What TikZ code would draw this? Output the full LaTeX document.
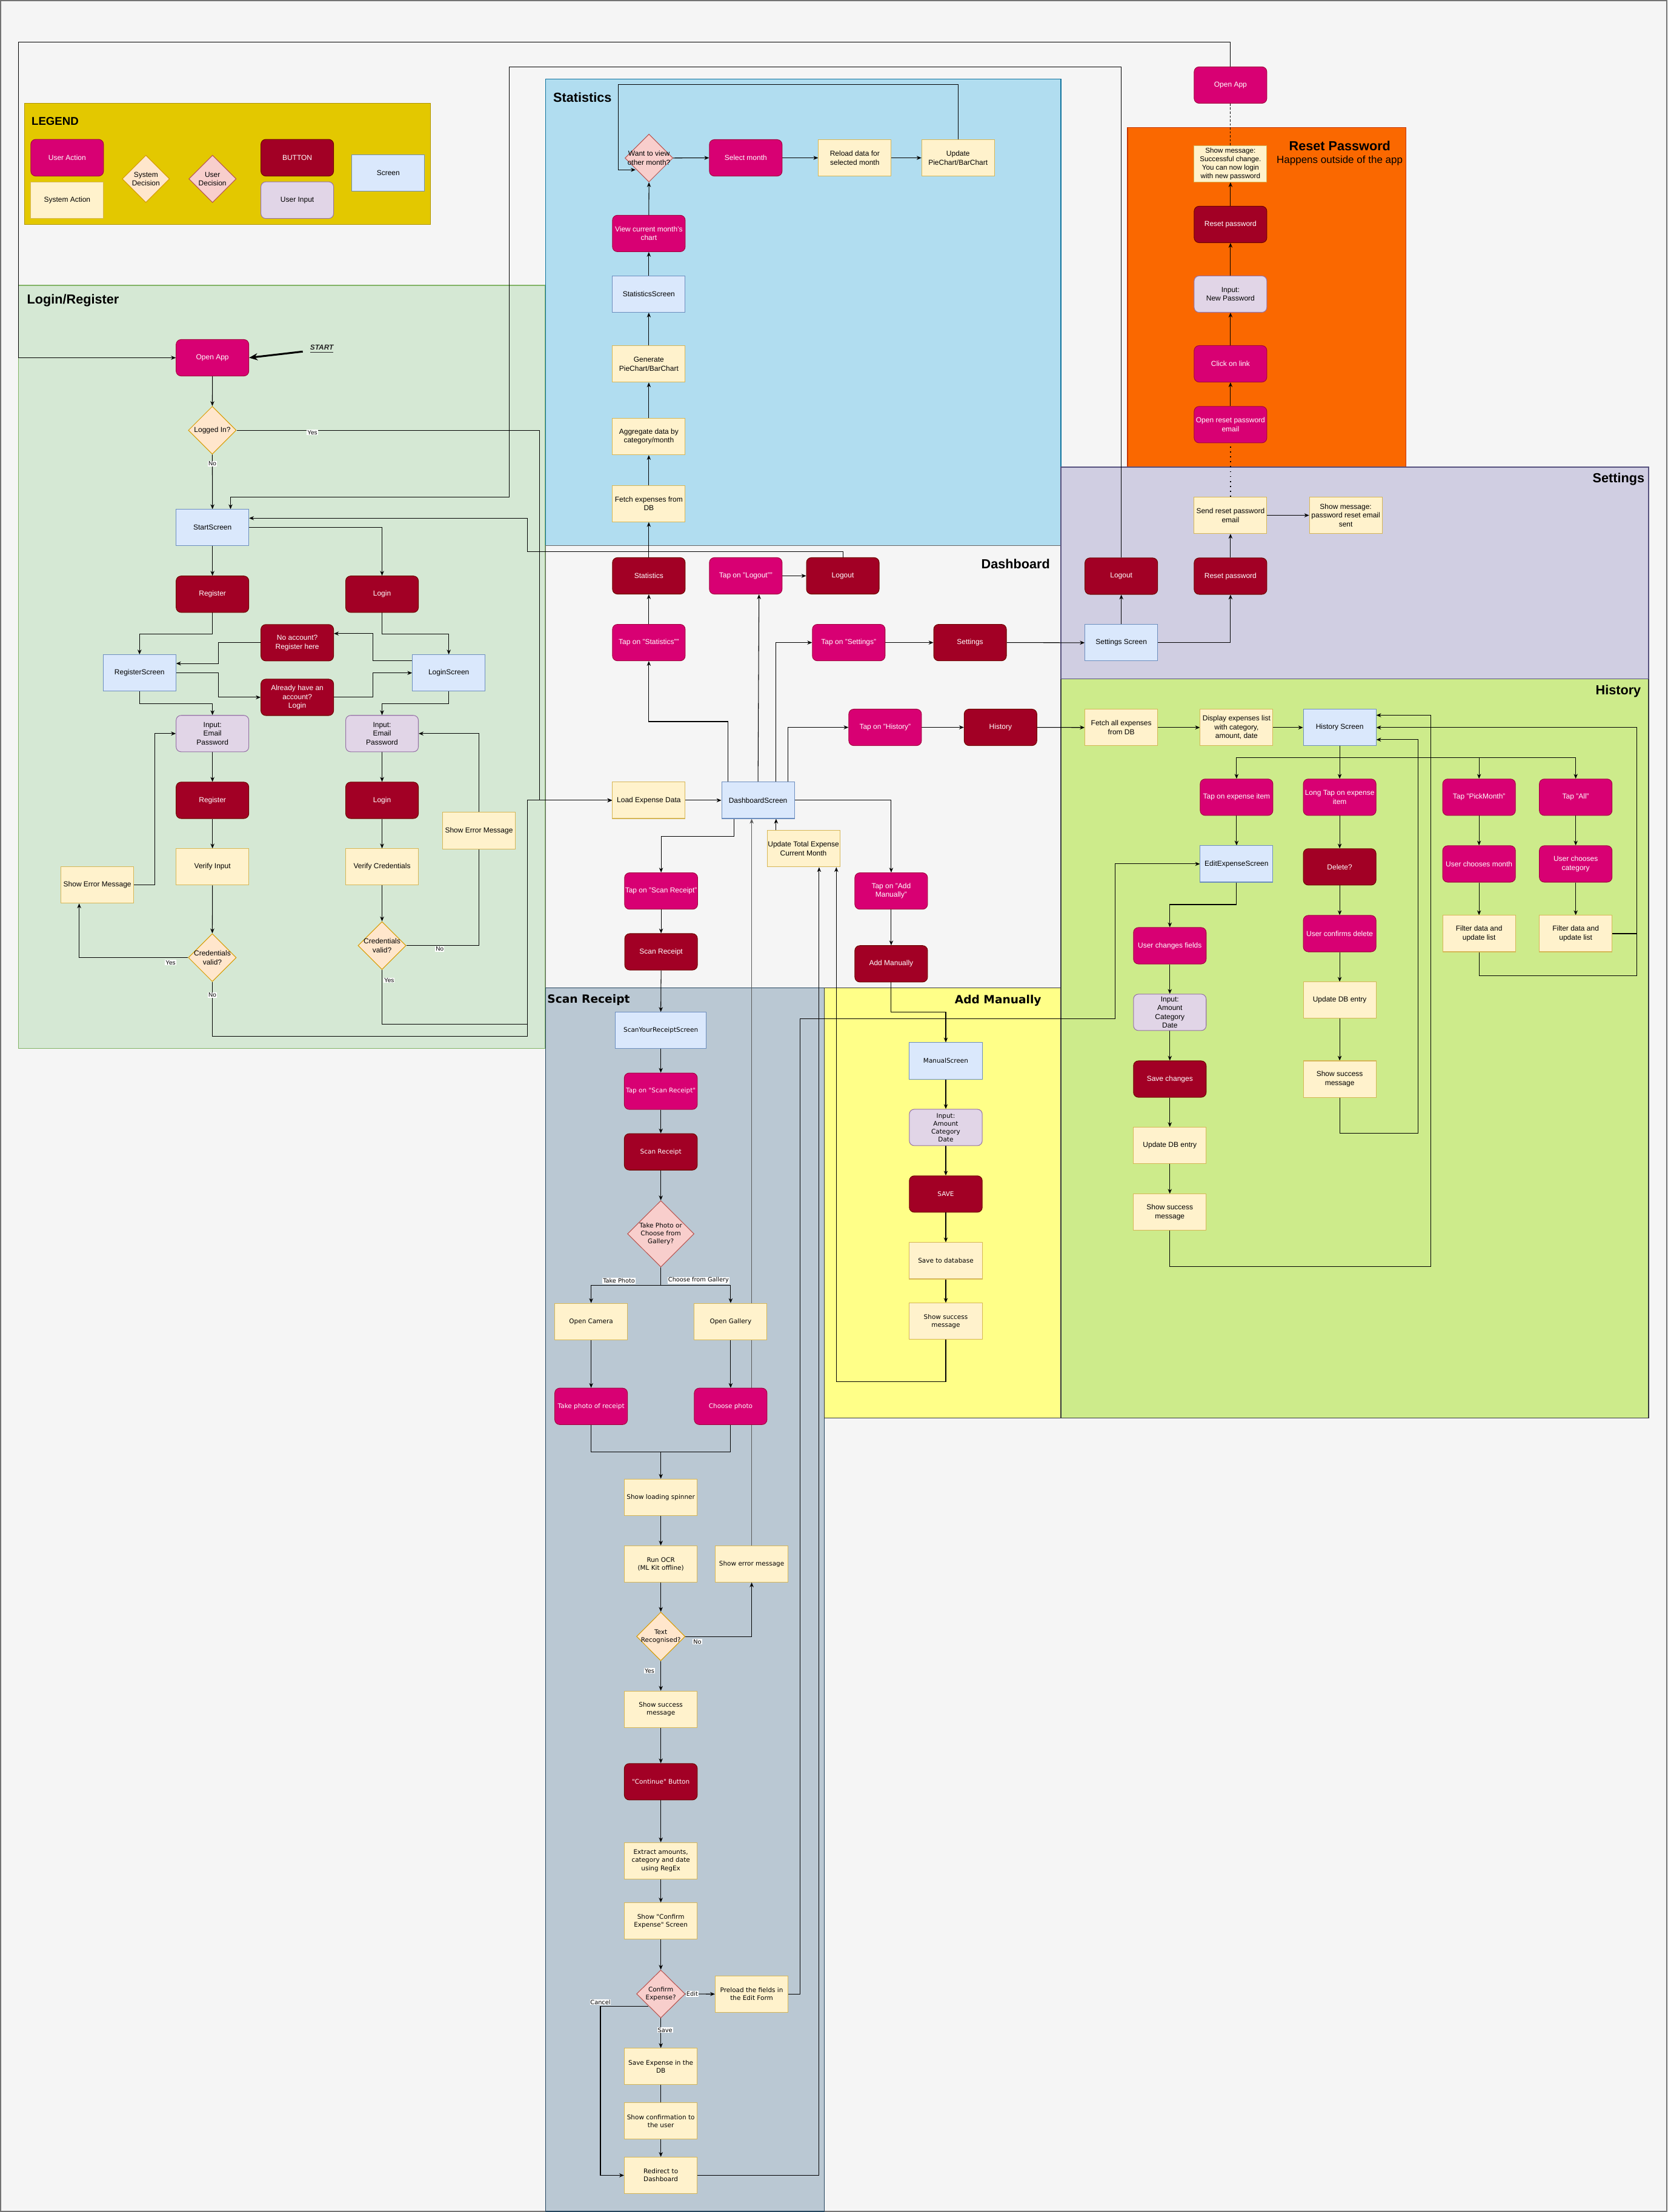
\documentclass[tikz,border=0pt]{standalone}
\usepackage{fontspec}
\setmainfont{Liberation Sans}
\newfontfamily\dejavu{DejaVu Sans}
\usetikzlibrary{shapes.geometric,arrows.meta,calc}
\pgfdeclarelayer{bglayer}
\pgfdeclarelayer{edgelayer}
\pgfsetlayers{bglayer,edgelayer,main}
\definecolor{bgc}{HTML}{F5F5F5}
\definecolor{cUA}{HTML}{D80073}\definecolor{cUAd}{HTML}{A50040}
\definecolor{cBT}{HTML}{A20025}\definecolor{cBTd}{HTML}{6F0000}
\definecolor{cSA}{HTML}{FFF2CC}\definecolor{cSAd}{HTML}{D6B656}
\definecolor{cSC}{HTML}{DAE8FC}\definecolor{cSCd}{HTML}{6C8EBF}
\definecolor{cUI}{HTML}{E1D5E7}\definecolor{cUId}{HTML}{9673A6}
\definecolor{cSD}{HTML}{FFE6CC}\definecolor{cSDd}{HTML}{D79B00}
\definecolor{cUD}{HTML}{F8CECC}\definecolor{cUDd}{HTML}{B85450}
\definecolor{lgLeg}{HTML}{E3C800}\definecolor{lgLegd}{HTML}{B09500}
\definecolor{lgLog}{HTML}{D5E8D4}\definecolor{lgLogd}{HTML}{82B366}
\definecolor{lgSta}{HTML}{B1DDF0}\definecolor{lgStad}{HTML}{10739E}
\definecolor{lgDasd}{HTML}{666666}
\definecolor{lgRes}{HTML}{FA6800}\definecolor{lgResd}{HTML}{C73500}
\definecolor{lgSet}{HTML}{D0CEE2}\definecolor{lgSetd}{HTML}{56517E}
\definecolor{lgHis}{HTML}{CDEB8B}\definecolor{lgHisd}{HTML}{36393D}
\definecolor{lgScn}{HTML}{BAC8D3}\definecolor{lgScnd}{HTML}{23445D}
\definecolor{lgAdd}{HTML}{FFFF88}\definecolor{lgAddd}{HTML}{36393D}
\tikzset{
 base/.style={line width=0.45pt, minimum width=51.5pt, minimum height=25.8pt, inner sep=0.4pt, align=center, font=\fontsize{5.15}{6.2}\selectfont},
 uact/.style={base, draw=cUAd, fill=cUA, text=white, rounded corners=3.5pt},
 btn/.style={base, draw=cBTd, fill=cBT, text=white, rounded corners=3.5pt},
 sact/.style={base, draw=cSAd, fill=cSA},
 scr/.style={base, draw=cSCd, fill=cSC},
 uin/.style={base, draw=cUId, fill=cUI, rounded corners=3.5pt},
 dia/.style={diamond, line width=0.45pt, inner sep=0pt, minimum width=34pt, minimum height=34pt},
 sdec/.style={dia, draw=cSDd, fill=cSD},
 udec/.style={dia, draw=cUDd, fill=cUD},
 dtext/.style={align=center, inner sep=0pt, font=\fontsize{5.15}{6.2}\selectfont},
 dvtext/.style={align=center, inner sep=0pt, font=\dejavu\fontsize{4.5}{5.6}\selectfont},
 dv/.style={font=\dejavu\fontsize{4.5}{5.6}\selectfont},
 arr/.style={draw=black, line width=0.45pt, -{Stealth[length=3.4pt,width=2.8pt]}},
 ln/.style={draw=black, line width=0.45pt},
 lbl/.style={fill=white, inner sep=0.4pt, font=\fontsize{4.3}{5}\selectfont},
 dvlbl/.style={fill=white, inner sep=0.4pt, font=\dejavu\fontsize{4.2}{5}\selectfont},
 lane/.style={line width=0.6pt},
 ttl/.style={inner sep=0pt, font=\bfseries\fontsize{9.3}{11}\selectfont},
 dvttl/.style={inner sep=0pt, font=\dejavu\bfseries\fontsize{8}{9.5}\selectfont},
}
\begin{document}
\begin{tikzpicture}[x=1pt,y=-1pt]
\useasboundingbox (0,0) rectangle (1182,1568);
\begin{pgfonlayer}{bglayer}
\fill[bgc] (0,0) rectangle (1182,1568);
\draw[black!55, line width=0.8pt] (0.4,0.4) rectangle (1181.6,1567.6);
\draw[lane, fill=lgLeg, draw=lgLegd] (17.3,73.3) rectangle (305.2,159.1);
\draw[lane, fill=lgLog, draw=lgLogd] (13.2,202.2) rectangle (386.6,743.3);
\draw[lane, fill=lgSta, draw=lgStad] (386.8,56) rectangle (752,386.7);
\draw[lane, fill=bgc, draw=lgDasd] (386.8,386.7) rectangle (752,700.3);
\draw[lane, fill=lgRes, draw=lgResd] (799.2,90.5) rectangle (996.7,331.1);
\draw[lane, fill=lgHis, draw=lgHisd] (752,481.2) rectangle (1168.5,1005.2);
\draw[lane, fill=lgSet, draw=lgSetd] (752,331.1) rectangle (1168.5,481.2);
\draw[lane, fill=lgScn, draw=lgScnd] (386.8,700.3) rectangle (584.4,1567.6);
\draw[lane, fill=lgAdd, draw=lgAddd] (584.4,700.3) rectangle (751.8,1005.2);
\end{pgfonlayer}

% titles
\node[inner sep=0pt, font=\bfseries\fontsize{8}{9}\selectfont, anchor=west] (legtitle) at (22.2,85.9) {LEGEND};
\node[ttl, anchor=west] (tlogin) at (19,212.8) {Login/Register};
\node[ttl, anchor=west] (tstat) at (392,69.1) {Statistics};
\node[ttl, anchor=east] (tdash) at (744.4,399.7) {Dashboard};
\node[ttl] (treset) at (949.7,103.3) {Reset Password};
\node[inner sep=0pt, font=\fontsize{7.3}{8.5}\selectfont] (tresetsub) at (949.6,113.9) {Happens outside of the app};
\node[ttl, anchor=east] (tset) at (1165.8,339.7) {Settings};
\node[ttl, anchor=east] (thist) at (1163.3,489.8) {History};
\node[dvttl, anchor=west] (tscan) at (387.8,708.8) {Scan Receipt};
\node[dvttl, anchor=west] (tadd) at (676.6,709.1) {Add Manually};

% legend
\node[uact, minimum height=26pt] (lgua) at (47.6,111.8) {User Action};
\node[sact, minimum height=26pt] (lgsa) at (47.6,141.9) {System Action};
\node[sdec, minimum width=33.6pt, minimum height=33.6pt, label={[dtext]center:{System\\Decision}}] (lgsd) at (103.4,126.8) {};
\node[udec, minimum width=33.6pt, minimum height=33.6pt, label={[dtext]center:{User\\Decision}}] (lgud) at (150.6,126.8) {};
\node[btn, minimum height=26pt] (lgbt) at (210.7,111.8) {BUTTON};
\node[uin, minimum height=26pt] (lgui) at (210.7,141.9) {User Input};
\node[scr] (lgsc) at (275.2,122.6) {Screen};

% Login / Register
\node[uact] (lopen) at (150.6,253.6) {Open App};
\node[sdec, label={[dtext]center:Logged In?}] (llogged) at (150.5,305) {};
\node[scr] (lstart) at (150.6,374) {StartScreen};
\node[btn] (lregb) at (150.6,421.2) {Register};
\node[btn] (llogb) at (270.8,421.2) {Login};
\node[btn] (lnoacc) at (210.7,455.6) {No account?\\Register here};
\node[btn] (lalready) at (210.7,494.3) {Already have an\\account?\\Login};
\node[scr] (lregscr) at (98.9,477) {RegisterScreen};
\node[scr] (llogscr) at (318.1,477) {LoginScreen};
\node[uin] (lregin) at (150.6,520) {Input:\\Email\\Password};
\node[uin] (llogin) at (270.8,520) {Input:\\Email\\Password};
\node[btn] (lregb2) at (150.6,567.3) {Register};
\node[btn] (llogb2) at (270.8,567.3) {Login};
\node[sact] (lverin) at (150.6,614.5) {Verify Input};
\node[sact] (lvercred) at (270.8,614.5) {Verify Credentials};
\node[sact] (lerr1) at (69,627.3) {Show Error Message};
\node[sact] (lerr2) at (339.5,588.8) {Show Error Message};
\node[sdec, label={[dtext]center:{Credentials\\valid?}}] (lcv1) at (150.5,678.8) {};
\node[sdec, label={[dtext]center:{Credentials\\valid?}}] (lcv2) at (270.8,670.3) {};
\node[font=\bfseries\itshape\fontsize{5.1}{6}\selectfont, text=black!85, inner sep=0pt] (starttxt) at (228.1,247.4) {\underline{START}};
\coordinate (startpt) at (214.6,249.2);

% Statistics
\node[udec, label={[dtext]center:{Want to view\\other month?}}] (swant) at (460,112) {};
\node[uact] (sselect) at (528.6,111.9) {Select month};
\node[sact] (sreload) at (605.9,111.9) {Reload data for\\selected month};
\node[sact] (supdate) at (679.1,111.9) {Update\\PieChart/BarChart};
\node[uact] (sview) at (459.9,165.5) {View current month's\\chart};
\node[scr] (sscr) at (459.9,208.5) {StatisticsScreen};
\node[sact] (sgen) at (459.9,258) {Generate\\PieChart/BarChart};
\node[sact] (sagg) at (459.9,309.5) {Aggregate data by\\category/month};
\node[sact] (sfetch) at (459.9,357) {Fetch expenses from\\DB};

% Dashboard
\node[btn] (dstat) at (459.9,408.2) {Statistics};
\node[uact] (dtaplogout) at (528.6,408.2) {Tap on "Logout""};
\node[btn] (dlogout) at (597.4,408.2) {Logout};
\node[uact] (dtapstat) at (459.9,455.5) {Tap on "Statistics""};
\node[uact] (dtapset) at (601.6,455.5) {Tap on "Settings"};
\node[btn] (dset) at (687.6,455.5) {Settings};
\node[uact] (dtaphist) at (627.4,515.6) {Tap on "History"};
\node[btn] (dhist) at (709.2,515.6) {History};
\node[sact] (dload) at (459.9,567.3) {Load Expense Data};
\node[scr] (dscr) at (537.3,567.3) {DashboardScreen};
\node[sact] (dupd) at (569.5,601.6) {Update Total Expense\\Current Month};
\node[uact] (dtapscan) at (468.6,631.6) {Tap on "Scan Receipt"};
\node[btn] (dscan) at (468.6,674.7) {Scan Receipt};
\node[uact] (dtapadd) at (631.7,631.6) {Tap on "Add\\Manually"};
\node[btn] (dadd) at (631.7,683.2) {Add Manually};

% Scan Receipt
\node[scr, dv, minimum width=64.4pt] (cscr) at (468.4,730.4) {ScanYourReceiptScreen};
\node[uact, dv, minimum width=51.7pt] (ctap) at (468.4,773.5) {Tap on "Scan Receipt"};
\node[btn, dv, minimum width=51.7pt] (cbtn) at (468.4,816.5) {Scan Receipt};
\node[udec, minimum width=47.2pt, minimum height=47.1pt, label={[dvtext]center:{Take Photo or\\Choose from\\Gallery?}}] (cdec) at (468.4,874.6) {};
\node[sact, dv] (ccam) at (419,936.8) {Open Camera};
\node[sact, dv] (cgal) at (517.9,936.8) {Open Gallery};
\node[uact, dv] (ctakeph) at (419,996.9) {Take photo of receipt};
\node[uact, dv] (cchoose) at (517.9,996.9) {Choose photo};
\node[sact, dv, minimum width=51.7pt] (cspin) at (468.4,1061.3) {Show loading spinner};
\node[sact, dv, minimum width=51.7pt] (cocr) at (468.4,1108.6) {Run OCR\\(ML Kit offline)};
\node[sact, dv, minimum width=51.7pt] (cerr) at (532.8,1108.6) {Show error message};
\node[sdec, minimum width=34.4pt, minimum height=34.5pt, label={[dvtext]center:{Text\\Recognised?}}] (ctxt) at (468.4,1160) {};
\node[sact, dv, minimum width=51.7pt] (csucc) at (468.4,1211.6) {Show success\\message};
\node[btn, dv, minimum width=51.7pt] (ccont) at (468.4,1263) {"Continue" Button};
\node[sact, dv, minimum width=51.7pt] (cextr) at (468.4,1319) {Extract amounts,\\category and date\\using RegEx};
\node[sact, dv, minimum width=51.7pt] (cshow) at (468.4,1361.7) {Show "Confirm\\Expense" Screen};
\node[udec, minimum width=34.4pt, minimum height=34pt, label={[dvtext]center:{Confirm\\Expense?}}] (cconf) at (468.4,1413.4) {};
\node[sact, dv, minimum width=51.7pt] (cpre) at (532.8,1413.5) {Preload the fields in\\the Edit Form};
\node[sact, dv, minimum width=51.7pt] (csave) at (468.4,1464.8) {Save Expense in the\\DB};
\node[sact, dv, minimum width=51.7pt] (cconfu) at (468.4,1503.5) {Show confirmation to\\the user};
\node[sact, dv, minimum width=51.7pt] (credir) at (468.4,1542) {Redirect to\\Dashboard};

% Add Manually
\node[scr, dv, minimum width=51.7pt] (mscr) at (670.4,752) {ManualScreen};
\node[uin, dv, minimum width=51.7pt] (minput) at (670.4,799.2) {Input:\\Amount\\Category\\Date};
\node[btn, dv, minimum width=51.7pt] (msave) at (670.4,846.4) {SAVE};
\node[sact, dv, minimum width=51.7pt] (mdb) at (670.4,893.7) {Save to database};
\node[sact, dv, minimum width=51.7pt] (msucc) at (670.4,936.6) {Show success\\message};

% Reset Password
\node[uact] (ropen) at (872.2,60.3) {Open App};
\node[sact, font=\fontsize{5}{6.05}\selectfont] (rmsg) at (872.2,116.1) {Show message:\\Successful change.\\You can now login\\with new password};
\node[btn] (rreset) at (872.2,159.1) {Reset password};
\node[uin] (rinput) at (872.2,208.5) {Input:\\New Password};
\node[uact] (rclick) at (872.2,257.9) {Click on link};
\node[uact] (rmail) at (872.2,301) {Open reset password\\email};

% Settings
\node[sact] (esend) at (872.2,365.3) {Send reset password\\email};
\node[sact] (emsg) at (953.9,365.3) {Show message:\\password reset email\\sent};
\node[btn] (elogout) at (794.8,408.4) {Logout};
\node[btn] (ereset) at (872.2,408.4) {Reset password};
\node[scr] (escr) at (794.8,455.6) {Settings Screen};

% History
\node[sact] (hfetch) at (794.8,515.7) {Fetch all expenses\\from DB};
\node[sact] (hdisp) at (876.5,515.7) {Display expenses list\\with category,\\amount, date};
\node[scr] (hscr) at (949.6,515.7) {History Screen};
\node[uact] (htapitem) at (876.5,565.1) {Tap on expense item};
\node[uact] (hlong) at (949.6,565.1) {Long Tap on expense\\item};
\node[uact] (hpick) at (1048.4,565.1) {Tap "PickMonth"};
\node[uact] (hall) at (1116.9,565.1) {Tap "All"};
\node[scr] (hedit) at (876.5,612.4) {EditExpenseScreen};
\node[btn] (hdel) at (949.6,614.5) {Delete?};
\node[uact] (hmonth) at (1048.4,612.4) {User chooses month};
\node[uact] (hcat) at (1116.9,612.4) {User chooses\\category};
\node[uact] (hchange) at (829.2,670.4) {User changes fields};
\node[uact] (hconfdel) at (949.6,661.8) {User confirms delete};
\node[sact] (hfilt1) at (1048.4,661.8) {Filter data and\\update list};
\node[sact] (hfilt2) at (1116.9,661.8) {Filter data and\\update list};
\node[uin] (hinput) at (829.2,717.6) {Input:\\Amount\\Category\\Date};
\node[sact] (hupddel) at (949.6,709) {Update DB entry};
\node[btn] (hsave) at (829.2,764.9) {Save changes};
\node[sact] (hsuccdel) at (949.6,764.9) {Show success\\message};
\node[sact] (hupd) at (829.2,812) {Update DB entry};
\node[sact] (hsucc) at (829.2,859.3) {Show success\\message};

\begin{pgfonlayer}{edgelayer}
% login / register
\draw[arr] (ropen.north) |- (13.2,30) |- (lopen.west);
\draw[line width=1.3pt, -{Stealth[length=6pt,width=5pt]}] (startpt) -- (lopen.east);
\draw[arr] (lopen.south) -- (llogged.north);
\draw[arr] (llogged.south) -- node[lbl,pos=0.17]{No} (lstart.north);
\draw[arr] (llogged.east) -- node[lbl,pos=0.25,yshift=-1.5pt]{Yes} (382.3,305) |- (dload.west);
\draw[arr] (elogout.north) |- (361,47.4) -- (361,352.3) -| ($(lstart.north)+(12.8,0)$);
\draw[arr] (dlogout.north) |- (373.8,391.1) |- ($(lstart.east)+(0,-6.7)$);
\draw[arr] (lstart.east) -| (llogb.north);
\draw[arr] (lstart.south) -- (lregb.north);
\draw[arr] (lregb.south) -- ++(0,15) -| (lregscr.north);
\draw[arr] (llogb.south) -- ++(0,15) -| (llogscr.north);
\draw[arr] (lnoacc.west) -- (154.9,455.6) |- ($(lregscr.east)+(0,-6.7)$);
\draw[arr] ($(llogscr.west)+(0,-8.5)$) -- (264.3,468.5) |- ($(lnoacc.east)+(0,-6.5)$);
\draw[arr] (lregscr.east) -- (154.9,477) |- (lalready.west);
\draw[arr] (lalready.east) -- (264.3,494.3) |- (llogscr.west);
\draw[arr] (lregscr.south) -- ++(0,8.5) -| (lregin.north);
\draw[arr] (llogscr.south) -- ++(0,8.5) -| (llogin.north);
\draw[arr] (lregin.south) -- (lregb2.north);
\draw[arr] (lregb2.south) -- (lverin.north);
\draw[arr] (lverin.south) -- (lcv1.north);
\draw[arr] (llogin.south) -- (llogb2.north);
\draw[arr] (llogb2.south) -- (lvercred.north);
\draw[arr] (lvercred.south) -- (lcv2.north);
\draw[arr] (lcv1.west) -| node[lbl,pos=0.08,yshift=-3.5pt]{Yes} ($(lerr1.south)+(-12.9,0)$);
\draw[arr] (lerr1.east) -- (109.8,627.3) |- (lregin.west);
\draw[arr] (lcv1.south) -- node[lbl,pos=0.24]{No} (150.5,734.7) -| (373.8,567.3) -- (dload.west);
\draw[ln] (lcv2.south) -- node[lbl,pos=0.19,xshift=5pt]{Yes} (270.8,726.1) -- (373.8,726.1);
\draw[ln] (lcv2.east) -| node[lbl,pos=0.23,yshift=-2.5pt]{No} (lerr2.south);
\draw[arr] (lerr2.north) |- (llogin.east);
% statistics
\draw[arr] (dstat.north) -- (sfetch.south);
\draw[arr] (sfetch.north) -- (sagg.south);
\draw[arr] (sagg.north) -- (sgen.south);
\draw[arr] (sgen.north) -- (sscr.south);
\draw[arr] (sscr.north) -- (sview.south);
\draw[arr] (sview.north) -- (swant.south);
\draw[arr] (swant.east) -- (sselect.west);
\draw[arr] (sselect.east) -- (sreload.west);
\draw[arr] (sreload.east) -- (supdate.west);
\draw[arr] (supdate.north) |- (438.3,60.1) |- ($(swant.center)+(-9.5,8.4)$);
% dashboard
\draw[arr] (dload.east) -- (dscr.west);
\draw[arr] ($(dscr.north)+(-21.5,0)$) |- (459.9,511.5) -- (dtapstat.south);
\draw[arr] (dtapstat.north) -- (dstat.south);
\draw[arr] (dscr.north) -- ($(dtaplogout.south)+(9.4,0)$);
\draw[arr] (dtaplogout.east) -- (dlogout.west);
\draw[arr] ($(dscr.north)+(12.8,0)$) |- (dtapset.west);
\draw[arr] ($(dscr.north)+(21.4,0)$) |- (dtaphist.west);
\draw[arr] (dtapset.east) -- (dset.west);
\draw[arr] (dset.east) -- (escr.west);
\draw[arr] (dtaphist.east) -- (dhist.west);
\draw[arr] (dhist.east) -- (hfetch.west);
\draw[arr] ($(dscr.south)+(-17.2,0)$) |- (468.6,593) -- (dtapscan.north);
\draw[arr] (dtapscan.south) -- (dscan.north);
\draw[arr] (dscan.south) -- (cscr.north);
\draw[arr] (dscr.east) -| (dtapadd.north);
\draw[arr] (dtapadd.south) -- (dadd.north);
\draw[arr] (dadd.south) |- (670.4,717.3) -- (mscr.north);
\draw[arr] ($(dupd.north)+(-19.4,0)$) -- ($(dscr.south)+(12.8,0)$);
\draw[arr, draw=black!65] (cerr.north) -- (cerr.north |- dscr.south);
% scan receipt
\draw[arr] (cscr.south) -- (ctap.north);
\draw[arr] (ctap.south) -- (cbtn.north);
\draw[arr] (cbtn.south) -- (cdec.north);
\draw[arr] (cdec.south) -- (468.4,911) -| node[dvlbl,pos=0.3,anchor=south,yshift=0.8pt]{Take Photo} (ccam.north);
\draw[arr] (cdec.south) -- (468.4,911) -| node[dvlbl,pos=0.27,anchor=south,yshift=0.8pt]{Choose from Gallery} (cgal.north);
\draw[arr] (ccam.south) -- (ctakeph.north);
\draw[arr] (cgal.south) -- (cchoose.north);
\draw[arr] (ctakeph.south) |- (468.4,1029.1) -- (cspin.north);
\draw[ln] (cchoose.south) |- (468.4,1029.1);
\draw[arr] (cspin.south) -- (cocr.north);
\draw[arr] (cocr.south) -- (ctxt.north);
\draw[arr] (ctxt.east) -| node[dvlbl,pos=0.09,yshift=-3.7pt]{No} (cerr.south);
\draw[arr] (ctxt.south) -- node[dvlbl,pos=0.33,xshift=-8pt]{Yes} (csucc.north);
\draw[arr] (csucc.south) -- (ccont.north);
\draw[arr] (ccont.south) -- (cextr.north);
\draw[arr] (cextr.south) -- (cshow.north);
\draw[arr] (cshow.south) -- (cconf.north);
\draw[arr] (cconf.east) -- node[dvlbl,pos=0.23]{Edit} (cpre.west);
\draw[arr] (cpre.east) -| (567.2,722) -| (790.4,612.4) -- (hedit.west);
\draw[arr] ($(cconf.center)+(-9,8.6)$) -| node[dvlbl,pos=0.5,anchor=south,yshift=0.5pt]{Cancel} (425.6,1480) |- (credir.west);
\draw[arr] (cconf.south) -- node[dvlbl,pos=0.4,xshift=3pt]{Save} (csave.north);
\draw[ln] (csave.south) -- (cconfu.north);
\draw[arr] (cconfu.south) -- (credir.north);
\draw[arr] (credir.east) -| ($(dupd.south)+(11.1,0)$);
% add manually
\draw[arr] (mscr.south) -- (minput.north);
\draw[arr] (minput.south) -- (msave.north);
\draw[arr] (msave.south) -- (mdb.north);
\draw[arr] (mdb.south) -- (msucc.north);
\draw[arr] (msucc.south) |- (592.8,979.5) -- ($(dupd.south)+(23.3,0)$);
% reset password
\draw[arr] (rmail.north) -- (rclick.south);
\draw[arr] (rclick.north) -- (rinput.south);
\draw[arr] (rinput.north) -- (rreset.south);
\draw[arr] (rreset.north) -- (rmsg.south);
\draw[ln, dash pattern=on 1.6pt off 1.2pt] (ropen.south) -- (rmsg.north);
\draw[ln, line width=0.7pt, dash pattern=on 0.7pt off 2.8pt] (esend.north) -- (rmail.south);
% settings
\draw[arr] (escr.north) -- (elogout.south);
\draw[arr] (escr.east) -| (ereset.south);
\draw[arr] (ereset.north) -- (esend.south);
\draw[arr] (esend.east) -- (emsg.west);
% history
\draw[arr] (hfetch.east) -- (hdisp.west);
\draw[arr] (hdisp.east) -- (hscr.west);
\draw[arr] (hscr.south) -- (hlong.north);
\draw[arr] (hscr.south) |- (876.5,537.1) -- (htapitem.north);
\draw[arr] (hscr.south) |- (1048.4,537.1) -- (hpick.north);
\draw[arr] (hscr.south) |- (1116.9,537.1) -- (hall.north);
\draw[arr] (htapitem.south) -- (hedit.north);
\draw[arr] (hlong.south) -- (hdel.north);
\draw[arr] (hpick.south) -- (hmonth.north);
\draw[arr] (hall.south) -- (hcat.north);
\draw[arr] (hdel.south) -- (hconfdel.north);
\draw[arr] (hconfdel.south) -- (hupddel.north);
\draw[arr] (hupddel.south) -- (hsuccdel.north);
\draw[arr] (hmonth.south) -- (hfilt1.north);
\draw[arr] (hcat.south) -- (hfilt2.north);
\draw[arr] (hedit.south) |- (829.2,641.2) -- (hchange.north);
\draw[arr] (hchange.south) -- (hinput.north);
\draw[arr] (hinput.south) -- (hsave.north);
\draw[arr] (hsave.south) -- (hupd.north);
\draw[arr] (hupd.south) -- (hsucc.north);
\draw[arr] (hsucc.south) |- (1014,897.8) |- ($(hscr.east)+(0,-8.7)$);
\draw[arr] (hsuccdel.south) |- (1005.2,803.2) |- ($(hscr.east)+(0,8.6)$);
\draw[arr] (hfilt2.east) -- (1160,661.8) |- (hscr.east);
\draw[ln] (hfilt1.south) |- (1160,691.7) -- (1160,661.8);
\end{pgfonlayer}
\end{tikzpicture}
\end{document}
